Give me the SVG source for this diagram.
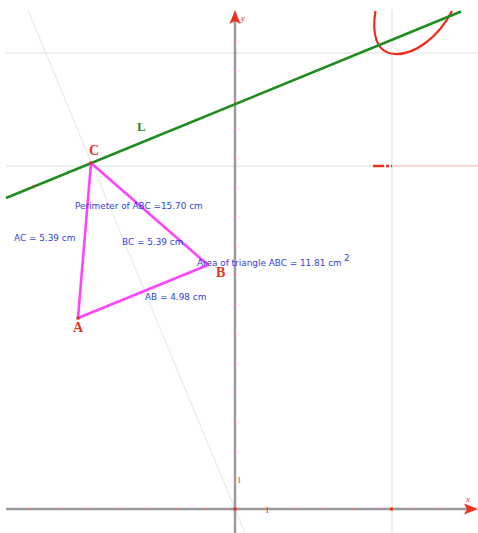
<svg xmlns="http://www.w3.org/2000/svg" width="478" height="533" viewBox="0 0 478 533">
<defs>
<style>
.grid{stroke:#eef0ee;stroke-width:2;fill:none}
.axis{stroke:#9a9a9a;stroke-width:2.5;fill:none}
.tick{fill:#f08070}
.lbl{font-family:"Liberation Serif",serif;font-weight:bold;font-size:14px;fill:#e8321e}
.meas{font-family:"DejaVu Sans","Liberation Sans",sans-serif;font-size:8.9px;fill:#2f3fd8}
.axl{font-family:"Liberation Serif",serif;font-style:italic;font-size:9px;fill:#e8321e}
.num{font-family:"Liberation Serif",serif;font-size:9px;fill:#e8321e}
</style>
</defs>
<rect width="478" height="533" fill="#ffffff"/>
<g id="grid">
<line class="grid" x1="6" y1="53" x2="478" y2="53"/>
<line class="grid" x1="6" y1="166" x2="478" y2="166"/>
<line class="grid" x1="392" y1="10" x2="392" y2="533"/>
<line x1="392" y1="166" x2="478" y2="166" stroke="#f6d8d0" stroke-width="2"/>
<path d="M373,166H384M386,166H389M391,166H392" stroke="#f03020" stroke-width="2.5"/>
</g>
<g id="helper">
<line x1="28" y1="10" x2="245" y2="533" stroke="#e4eee4" stroke-width="1.2"/>
</g>
<g id="axes">
<line class="axis" x1="6" y1="509" x2="468" y2="509"/>
<line class="axis" x1="235" y1="20" x2="235" y2="533"/>
<path d="M478,509 L464,503.5 L467,509 L464,514.5 Z" fill="#f03020"/>
<path d="M235,10 L229.5,24 L235,21 L240.5,24 Z" fill="#f03020"/>
<g class="tick">
<rect x="29" y="508" width="2" height="2"/><rect x="59" y="508" width="2" height="2"/><rect x="88" y="508" width="2" height="2"/><rect x="117" y="508" width="2" height="2"/><rect x="147" y="508" width="2" height="2"/><rect x="176" y="508" width="2" height="2"/><rect x="205" y="508" width="2" height="2"/>
<rect x="263" y="508" width="2" height="2"/><rect x="293" y="508" width="2" height="2"/><rect x="322" y="508" width="2" height="2"/><rect x="351" y="508" width="2" height="2"/><rect x="380" y="508" width="2" height="2"/><rect x="409" y="508" width="2" height="2"/><rect x="438" y="508" width="2" height="2"/>
<rect x="234" y="479" width="2" height="2"/><rect x="234" y="450" width="2" height="2"/><rect x="234" y="421" width="2" height="2"/><rect x="234" y="391" width="2" height="2"/><rect x="234" y="362" width="2" height="2"/><rect x="234" y="333" width="2" height="2"/><rect x="234" y="304" width="2" height="2"/><rect x="234" y="274" width="2" height="2"/><rect x="234" y="245" width="2" height="2"/><rect x="234" y="216" width="2" height="2"/><rect x="234" y="186" width="2" height="2"/><rect x="234" y="157" width="2" height="2"/><rect x="234" y="128" width="2" height="2"/><rect x="234" y="99" width="2" height="2"/><rect x="234" y="70" width="2" height="2"/><rect x="234" y="41" width="2" height="2"/>
</g>
<rect x="233.5" y="507.5" width="3" height="3" fill="#f03020"/>
<rect x="390" y="507.5" width="3" height="3" fill="#f03020"/>
<text class="axl" x="241" y="21">y</text>
<text class="axl" x="466" y="502">x</text>
<text class="num" x="237" y="483">1</text>
<text class="num" x="265" y="513">1</text>
</g>
<g id="curve">
<path d="M375.5,11 C372,32 375,53 395,54 C414,55 438,38 452,11" fill="none" stroke="#f02a18" stroke-width="2.2"/>
</g>
<g id="line-L">
<line x1="6" y1="198" x2="461" y2="11.5" stroke="#1e8c1e" stroke-width="2.5"/>
<rect x="33" y="185" width="3" height="2" fill="#d03020"/>
<text x="137" y="131" font-family="Liberation Serif,serif" font-weight="bold" font-size="13" fill="#1e8c1e">L</text>
</g>
<g id="triangle">
<path d="M91,163 L208,265 L78,318 Z" fill="none" stroke="#ff44ff" stroke-width="2.6" stroke-linejoin="round"/>
<rect x="89.5" y="161.5" width="3" height="3" fill="#d03020"/>
<rect x="76.5" y="316.5" width="3" height="3" fill="#d03020"/>
</g>
<g id="label-C"><text class="lbl" x="89" y="155">C</text></g>
<g id="label-A"><text class="lbl" x="73" y="332">A</text></g>
<g id="label-B"><text class="lbl" x="216" y="277">B</text></g>
<g id="measures">
<text class="meas" x="75" y="209">Perimeter of ABC =15.70 cm</text>
<text class="meas" x="14" y="241">AC = 5.39 cm</text>
<text class="meas" x="122" y="245">BC = 5.39 cm</text>
<text class="meas" x="197" y="266">Area of triangle ABC = 11.81 cm</text>
<text class="meas" x="344" y="261">2</text>
<text class="meas" x="145" y="300">AB = 4.98 cm</text>
</g>
</svg>
